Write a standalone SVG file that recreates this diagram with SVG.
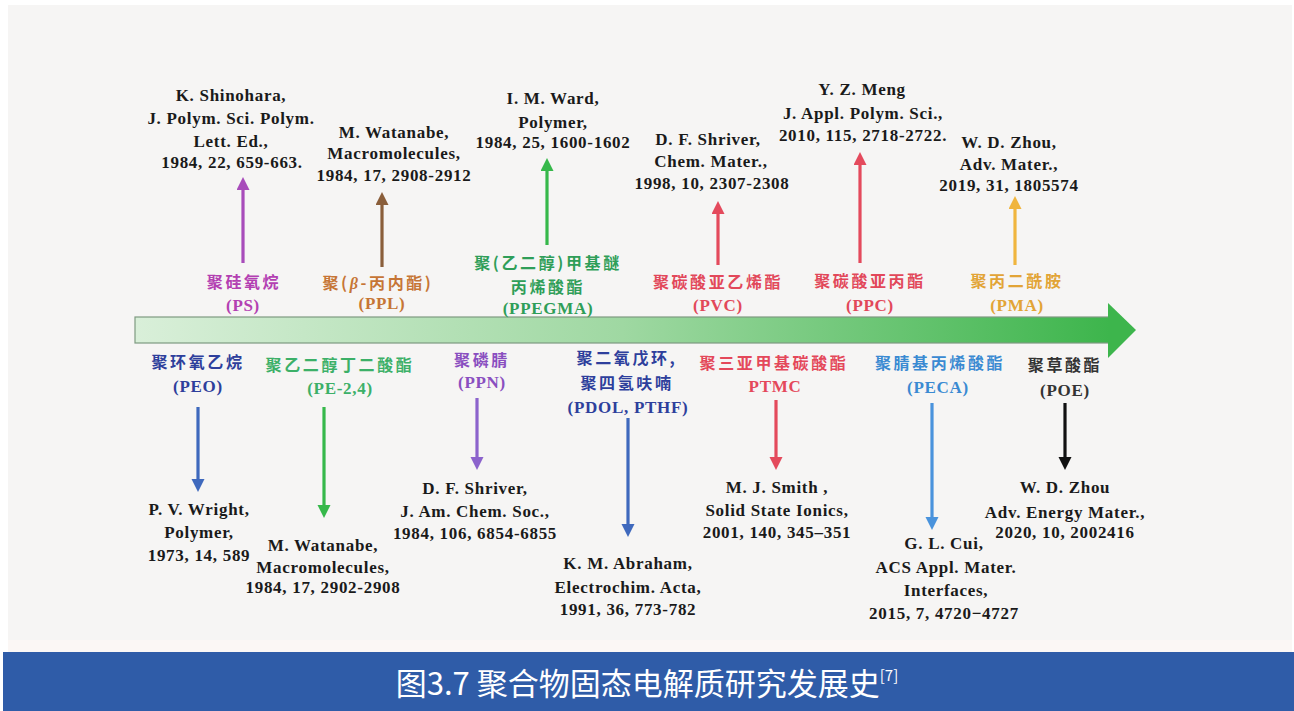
<svg xmlns="http://www.w3.org/2000/svg" width="1294" height="711" viewBox="0 0 1294 711">
<style>
.ref{font-family:"Liberation Serif","Times New Roman",serif;font-weight:bold;font-size:17px;letter-spacing:0.7px;fill:#1a1a1a;text-anchor:middle}
.lbl{font-family:"Noto Sans CJK SC","Noto Sans",sans-serif;font-weight:bold;font-size:16px;letter-spacing:2.6px;text-anchor:middle}
.abbr{font-family:"Liberation Serif","Times New Roman",serif;font-weight:bold;font-size:17px;letter-spacing:0.7px;text-anchor:middle}
.cap{font-family:"Noto Sans CJK SC","Noto Sans",sans-serif;font-size:31px;font-weight:400;fill:#ffffff;text-anchor:middle}
line{stroke-width:3.2;fill:none}
</style>
<defs>
<linearGradient id="barg" x1="0" y1="0" x2="1" y2="0">
<stop offset="0" stop-color="#d9efd9"/>
<stop offset="0.5" stop-color="#9fd8a2"/>
<stop offset="1" stop-color="#3db54c"/>
</linearGradient>
<marker id="mPS" markerUnits="userSpaceOnUse" markerWidth="14" markerHeight="14" refX="4" refY="6.5" orient="auto"><path d="M0,0 L13,6.5 L0,13 z" fill="#a84cba"/></marker>
<marker id="mPPL" markerUnits="userSpaceOnUse" markerWidth="14" markerHeight="14" refX="4" refY="6.5" orient="auto"><path d="M0,0 L13,6.5 L0,13 z" fill="#8a5e3a"/></marker>
<marker id="mGR" markerUnits="userSpaceOnUse" markerWidth="14" markerHeight="14" refX="4" refY="6.5" orient="auto"><path d="M0,0 L13,6.5 L0,13 z" fill="#36b84a"/></marker>
<marker id="mRD" markerUnits="userSpaceOnUse" markerWidth="14" markerHeight="14" refX="4" refY="6.5" orient="auto"><path d="M0,0 L13,6.5 L0,13 z" fill="#e44a5c"/></marker>
<marker id="mOR" markerUnits="userSpaceOnUse" markerWidth="14" markerHeight="14" refX="4" refY="6.5" orient="auto"><path d="M0,0 L13,6.5 L0,13 z" fill="#f0b53e"/></marker>
<marker id="mBL" markerUnits="userSpaceOnUse" markerWidth="14" markerHeight="14" refX="4" refY="6.5" orient="auto"><path d="M0,0 L13,6.5 L0,13 z" fill="#3f69bd"/></marker>
<marker id="mPU" markerUnits="userSpaceOnUse" markerWidth="14" markerHeight="14" refX="4" refY="6.5" orient="auto"><path d="M0,0 L13,6.5 L0,13 z" fill="#8c63cc"/></marker>
<marker id="mLB" markerUnits="userSpaceOnUse" markerWidth="14" markerHeight="14" refX="4" refY="6.5" orient="auto"><path d="M0,0 L13,6.5 L0,13 z" fill="#4a93dc"/></marker>
<marker id="mBK" markerUnits="userSpaceOnUse" markerWidth="14" markerHeight="14" refX="4" refY="6.5" orient="auto"><path d="M0,0 L13,6.5 L0,13 z" fill="#111111"/></marker>
</defs>

<rect x="0" y="0" width="1294" height="711" fill="#ffffff"/>
<rect x="8" y="5" width="1284" height="637" fill="#f6f5f4"/>
<rect x="8" y="640" width="1284" height="12" fill="#fbf7f5"/>
<rect x="3" y="652" width="1291" height="59" fill="#2f5ca8"/>

<g id="timeline">
<rect x="135" y="317" width="975" height="26" fill="url(#barg)" stroke="#7e9a80" stroke-width="1.2"/>
<polygon points="1108,303 1136,330 1108,358" fill="#3db54c"/>
</g>

<g id="connectors">
<line x1="243" y1="263" x2="243" y2="186" stroke="#a84cba" marker-end="url(#mPS)"/>
<line x1="382" y1="267" x2="382" y2="201" stroke="#8a5e3a" marker-end="url(#mPPL)"/>
<line x1="547" y1="245" x2="547" y2="167" stroke="#36b84a" marker-end="url(#mGR)"/>
<line x1="718" y1="265" x2="718" y2="210" stroke="#e44a5c" marker-end="url(#mRD)"/>
<line x1="860" y1="263" x2="860" y2="161" stroke="#e44a5c" marker-end="url(#mRD)"/>
<line x1="1015" y1="265" x2="1015" y2="205" stroke="#f0b53e" marker-end="url(#mOR)"/>
<line x1="198" y1="407" x2="198" y2="483" stroke="#3f69bd" marker-end="url(#mBL)"/>
<line x1="324" y1="407" x2="324" y2="509" stroke="#36b84a" marker-end="url(#mGR)"/>
<line x1="477" y1="398" x2="477" y2="461" stroke="#8c63cc" marker-end="url(#mPU)"/>
<line x1="628" y1="418" x2="628" y2="528" stroke="#3f69bd" marker-end="url(#mBL)"/>
<line x1="776" y1="400" x2="776" y2="461" stroke="#e44a5c" marker-end="url(#mRD)"/>
<line x1="932" y1="403" x2="932" y2="521" stroke="#4a93dc" marker-end="url(#mLB)"/>
<line x1="1065" y1="403" x2="1065" y2="461" stroke="#111111" marker-end="url(#mBK)"/>
</g>

<g id="PS">
<text class="lbl" x="244" y="288" fill="#b340b2">聚硅氧烷</text>
<text class="abbr" x="243" y="311" fill="#b340b2">(PS)</text>
<text class="ref" x="231" y="101">K. Shinohara,</text>
<text class="ref" x="231" y="124">J. Polym. Sci. Polym.</text>
<text class="ref" x="231" y="147">Lett. Ed.,</text>
<text class="ref" x="232" y="168">1984, 22, 659-663.</text>
</g>

<g id="PPL">
<text class="lbl" x="378" y="289" fill="#c67536">聚(<tspan font-style="italic" font-family="Liberation Serif,serif">β</tspan>-丙内酯)</text>
<text class="abbr" x="382" y="309" fill="#c67536">(PPL)</text>
<text class="ref" x="394" y="138">M. Watanabe,</text>
<text class="ref" x="394" y="159">Macromolecules,</text>
<text class="ref" x="394" y="181">1984, 17, 2908-2912</text>
</g>

<g id="PPEGMA">
<text class="lbl" x="548" y="269" fill="#2f9e58">聚(乙二醇)甲基醚</text>
<text class="lbl" x="548" y="293" fill="#2f9e58">丙烯酸酯</text>
<text class="abbr" x="548" y="314" fill="#2f9e58">(PPEGMA)</text>
<text class="ref" x="553" y="104">I. M. Ward,</text>
<text class="ref" x="553" y="128">Polymer,</text>
<text class="ref" x="553" y="148">1984, 25, 1600-1602</text>
</g>

<g id="PVC">
<text class="lbl" x="718" y="288" fill="#e2485a">聚碳酸亚乙烯酯</text>
<text class="abbr" x="718" y="311" fill="#e2485a">(PVC)</text>
<text class="ref" x="708" y="145">D. F. Shriver,</text>
<text class="ref" x="711" y="167">Chem. Mater.,</text>
<text class="ref" x="712" y="189">1998, 10, 2307-2308</text>
</g>

<g id="PPC">
<text class="lbl" x="870" y="287" fill="#e2485a">聚碳酸亚丙酯</text>
<text class="abbr" x="870" y="311" fill="#e2485a">(PPC)</text>
<text class="ref" x="862" y="95">Y. Z. Meng</text>
<text class="ref" x="863" y="119">J. Appl. Polym. Sci.,</text>
<text class="ref" x="863" y="141">2010, 115, 2718-2722.</text>
</g>

<g id="PMA">
<text class="lbl" x="1017" y="287" fill="#e2a436">聚丙二酰胺</text>
<text class="abbr" x="1017" y="311" fill="#e2a436">(PMA)</text>
<text class="ref" x="1009" y="148">W. D. Zhou,</text>
<text class="ref" x="1009" y="170">Adv. Mater.,</text>
<text class="ref" x="1009" y="191">2019, 31, 1805574</text>
</g>

<g id="PEO">
<text class="lbl" x="198" y="368" fill="#2e3f9c">聚环氧乙烷</text>
<text class="abbr" x="198" y="392" fill="#2e3f9c">(PEO)</text>
<text class="ref" x="199" y="515">P. V. Wright,</text>
<text class="ref" x="199" y="538">Polymer,</text>
<text class="ref" x="199" y="561">1973, 14, 589</text>
</g>

<g id="PE24">
<text class="lbl" x="340" y="371" fill="#3cb068">聚乙二醇丁二酸酯</text>
<text class="abbr" x="340" y="394" fill="#3cb068">(PE-2,4)</text>
<text class="ref" x="323" y="551">M. Watanabe,</text>
<text class="ref" x="323" y="573">Macromolecules,</text>
<text class="ref" x="323" y="593">1984, 17, 2902-2908</text>
</g>

<g id="PPN">
<text class="lbl" x="482" y="366" fill="#8a4fc0">聚磷腈</text>
<text class="abbr" x="482" y="388" fill="#8a4fc0">(PPN)</text>
<text class="ref" x="475" y="494">D. F. Shriver,</text>
<text class="ref" x="475" y="517">J. Am. Chem. Soc.,</text>
<text class="ref" x="475" y="539">1984, 106, 6854-6855</text>
</g>

<g id="PDOL">
<text class="lbl" x="627" y="364" fill="#2e3f9c">聚二氧戊环,</text>
<text class="lbl" x="627" y="389" fill="#2e3f9c">聚四氢呋喃</text>
<text class="abbr" x="628" y="413" fill="#2e3f9c">(PDOL, PTHF)</text>
<text class="ref" x="628" y="569">K. M. Abraham,</text>
<text class="ref" x="628" y="593">Electrochim. Acta,</text>
<text class="ref" x="628" y="615">1991, 36, 773-782</text>
</g>

<g id="PTMC">
<text class="lbl" x="774" y="369" fill="#e4485a">聚三亚甲基碳酸酯</text>
<text class="abbr" x="775" y="392" fill="#e4485a">PTMC</text>
<text class="ref" x="777" y="493">M. J. Smith ,</text>
<text class="ref" x="777" y="516">Solid State Ionics,</text>
<text class="ref" x="777" y="538">2001, 140, 345–351</text>
</g>

<g id="PECA">
<text class="lbl" x="940" y="369" fill="#3a8ad2">聚腈基丙烯酸酯</text>
<text class="abbr" x="938" y="393" fill="#3a8ad2">(PECA)</text>
<text class="ref" x="944" y="549">G. L. Cui,</text>
<text class="ref" x="946" y="573">ACS Appl. Mater.</text>
<text class="ref" x="946" y="596">Interfaces,</text>
<text class="ref" x="944" y="619">2015, 7, 4720−4727</text>
</g>

<g id="POE">
<text class="lbl" x="1065" y="371" fill="#333333">聚草酸酯</text>
<text class="abbr" x="1065" y="396" fill="#333333">(POE)</text>
<text class="ref" x="1065" y="493">W. D. Zhou</text>
<text class="ref" x="1065" y="518">Adv. Energy Mater.,</text>
<text class="ref" x="1065" y="538">2020, 10, 2002416</text>
</g>

<g id="caption">
<text class="cap" x="647" y="695">图3.7 聚合物固态电解质研究发展史<tspan font-size="15" dy="-14">[7]</tspan></text>
</g>
</svg>
